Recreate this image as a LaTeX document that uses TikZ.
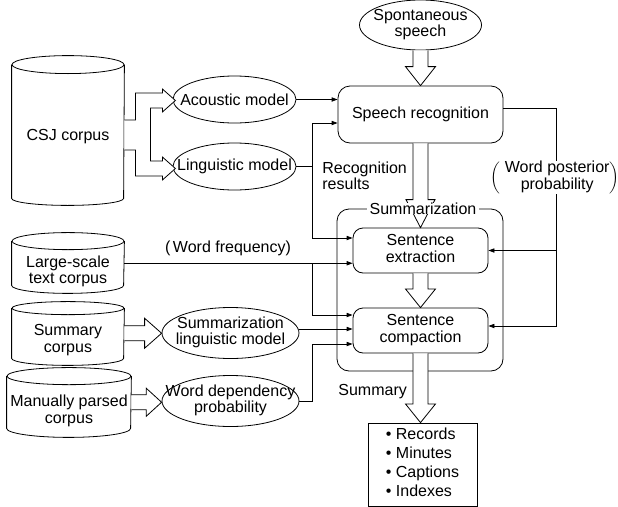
\documentclass[tikz,border=0pt]{standalone}
\usepackage{fontspec}
\setmainfont{Liberation Sans}
\usetikzlibrary{shapes.geometric,arrows.meta,calc}
\newcommand\ctab[1]{\makebox[0pt]{\begin{tabular}{@{}c@{}}#1\end{tabular}}}
\newcommand\cylsh[4]{%
  \draw let \p1=(#1.north west), \p2=(#1.south east) in (\p1) -- (\x1,\y2) arc[start angle=180,end angle=360,x radius=#2,y radius=#4] -- (\x2,\y1);
  \draw (#1.north) ellipse[x radius=#2,y radius=#3];}
\newcommand\vblk[4]{%
  \draw[blk] let \p1=(#1), \p2=(#2) in (\x1-5.625pt,\y1) -- (\x1-5.625pt,\y2+#3) -- (\x1-#4,\y2+#3) -- (\x1,\y2) -- (\x1+#4,\y2+#3) -- (\x1+5.625pt,\y2+#3) -- (\x1+5.625pt,\y1);}
\newcommand\hblk[4]{%
  \draw[blk] let \p1=(#1), \p2=(#2) in (\x1,\y1+5.625pt) -- (\x2-#3,\y1+5.625pt) -- (\x2-#3,\y1+#4) -- (\x2,\y1) -- (\x2-#3,\y1-#4) -- (\x2-#3,\y1-5.625pt) -- (\x1,\y1-5.625pt);}
\tikzset{
  every node/.style={inner sep=0pt},
  ell/.style={draw, ellipse},
  rbox/.style={draw, rectangle, rounded corners=#1},
  cylbox/.style={rectangle, minimum width=#1},
  blk/.style={draw, fill=white},
  arr/.style={-{Triangle[length=4.5pt,width=3.2pt]}},
}
\begin{document}
\begin{tikzpicture}[x=0.75pt, y=-0.75pt, line width=0.6pt, font=\fontsize{12}{12.5}\selectfont]
\useasboundingbox (0,0) rectangle (618,507);

% cylinders
\node[cylbox=84pt, minimum height=99.75pt] (csj) at (68,131.5) {};
\cylsh{csj}{42pt}{6.75pt}{5.25pt}
\node (csjt) at (68,137) {CSJ corpus};
\node[cylbox=84pt, minimum height=32.6pt] (lsc) at (68,263.25) {};
\cylsh{lsc}{42pt}{6.4pt}{6pt}
\node (lsct) at (68,272) {\begin{tabular}{@{}c@{}}Large-scale\\text corpus\end{tabular}};
\node[cylbox=84pt, minimum height=37.1pt] (smc) at (68,333.25) {};
\cylsh{smc}{42pt}{4.9pt}{5.25pt}
\node (smct) at (68,340.5) {\begin{tabular}{@{}c@{}}Summary\\corpus\end{tabular}};
\node[cylbox=93pt, minimum height=38.6pt] (mpc) at (69,402.25) {};
\cylsh{mpc}{46.5pt}{6.4pt}{6.75pt}
\node (mpct) at (69,411.5) {\begin{tabular}{@{}c@{}}Manually parsed\\corpus\end{tabular}};

% ellipses
\node[ell, minimum width=91.5pt, minimum height=37.5pt] (sp) at (420.5,25) {\ctab{Spontaneous\\speech}};
\node[ell, minimum width=92.25pt, minimum height=35.25pt] (ac) at (234.5,99.5) {\makebox[0pt]{Acoustic model}};
\node[ell, minimum width=92.25pt, minimum height=35.25pt] (lm) at (234.5,166.5) {\makebox[0pt]{Linguistic model}};
\node[ell, minimum width=102.75pt, minimum height=38.25pt] (slm) at (230.5,333) {\ctab{Summarization\\linguistic model}};
\node[ell, minimum width=102.75pt, minimum height=38.25pt] (wdp) at (230.5,401) {\ctab{Word dependency\\probability}};

% boxes
\node[rbox=9pt, minimum width=124.5pt, minimum height=121.5pt] (sum) at (420,290) {};
\node[rbox=9pt, minimum width=123.75pt, minimum height=42.75pt] (sr) at (420.5,114.5) {Speech recognition};
\node[rbox=7.5pt, minimum width=101.25pt, minimum height=33.75pt] (ext) at (420.5,250.5) {\begin{tabular}{@{}c@{}}Sentence\\extraction\end{tabular}};
\node[rbox=7.5pt, minimum width=101.25pt, minimum height=33.75pt] (comp) at (420.5,330.5) {\begin{tabular}{@{}c@{}}Sentence\\compaction\end{tabular}};
\node[draw, minimum width=81.75pt, minimum height=62.25pt] (out) at (422.5,464.5) {{\renewcommand\arraystretch{1.14}\begin{tabular}{@{}l@{}}\textbullet\ Records\\\textbullet\ Minutes\\\textbullet\ Captions\\\textbullet\ Indexes\end{tabular}}};

% block arrows
\draw[blk] ($(csj.east)+(0,-11.5)$) -- ++(11,0) -- ++(0,-27) -- ++(27,0) -- ++(0,-4) -- ++(13,11.5) -- ++(-13,11.5) -- ++(0,-4) -- ++(-12,0) -- ++(0,53) -- ++(12,0) -- ++(0,-4) -- ++(13,11.5) -- ++(-13,11.5) -- ++(0,-4) -- ++(-27,0) -- ++(0,-26) -- ++(-11,0);
\vblk{sp.south}{sr.north}{14.25pt}{11.25pt}
\vblk{sr.south}{ext.north}{21pt}{10.9pt}
\vblk{ext.south}{comp.north}{14pt}{11.25pt}
\vblk{comp.south}{out.north -| comp.south}{14pt}{11.25pt}
\hblk{smc.east}{slm.west}{12.75pt}{11.25pt}
\hblk{mpc.east}{wdp.west}{11.5pt}{10.5pt}

% connectors
\draw[arr] (ac.east) -- (ac.east -| sr.west);
\coordinate (j1) at ($(lm.east)+(16,0)$);
\draw (lm.east) -- (j1);
\draw[arr] (j1) |- ($(sr.west)+(0,8.5)$);
\draw[arr] (j1) |- ($(ext.west)+(0,-12.5)$);
\draw[arr] (lsc.east) -- (lsc.east -| ext.west);
\coordinate (j2) at (lsc.east -| j1);
\draw[arr] (j2) |- ($(comp.west)+(0,-15.5)$);
\draw[arr] ($(slm.east)+(0,-4)$) -- ($(comp.west)+(0,-1.5)$);
\coordinate (j3) at ($(wdp.east)+(13,0)$);
\draw[arr] (wdp.east) -- (j3) |- ($(comp.west)+(0,13.5)$);
\draw ($(sr.east)+(0,-6.5)$) -- ++(53,0) coordinate (rt);
\draw[arr] (rt) |- ($(comp.east)+(0,-4.5)$);
\draw[arr] (rt |- ext.east) -- (ext.east);

% labels
\node[fill=white, inner xsep=2pt] (sumlbl) at ($(sum.north)+(3,0)$) {Summarization};
\node[anchor=west] (rr) at (322,178) {\begin{tabular}{@{}l@{}}Recognition\\results\end{tabular}};
\node (wf) at (228,248) {(\,Word frequency)};
\node[fill=white] (wp) at (555,177.5) {$\left(\;\begin{tabular}{@{}c@{}}Word posterior\\probability\end{tabular}\right)$};
\node[anchor=west] (smy) at (338,392) {Summary};
\end{tikzpicture}
\end{document}
